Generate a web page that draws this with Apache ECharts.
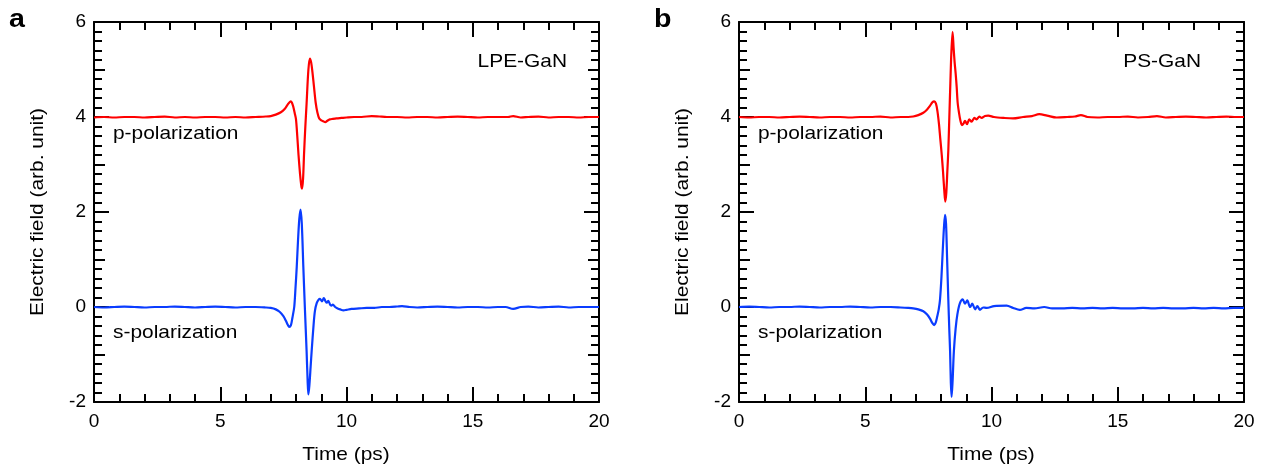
<!DOCTYPE html>
<html>
<head>
<meta charset="utf-8">
<script src="https://cdn.jsdelivr.net/npm/echarts@6/dist/echarts.min.js"></script>
<style>
html,body{margin:0;padding:0;background:#fff;}
#chart{width:1267px;height:468px;}
</style>
</head>
<body>
<div id="chart"></div>
<script>
// ---- data ----
var xTicks = [0, 5, 10, 15, 20];
var yTicks = [-2, 0, 2, 4, 6];
var panelLetters = ['a', 'b'];
var sampleNames = ['LPE-GaN', 'PS-GaN'];
var polNames = ['p-polarization', 's-polarization'];
var xName = 'Time (ps)';
var yName = 'Electric field (arb. unit)';

// Panel a, p-polarization (offset +4)
var tA_p = [0,0.4,0.8,1.2,1.6,2.0,2.4,2.8,3.2,3.6,4.0,4.4,4.8,5.2,5.6,6.0,6.4,6.8,7.0,7.2,7.4,7.55,7.67,7.79,7.84,7.89,7.95,8.00,8.05,8.10,8.16,8.21,8.24,8.28,8.32,8.37,8.42,8.49,8.55,8.60,8.65,8.71,8.78,8.85,8.92,9.00,9.08,9.16,9.24,9.34,9.46,9.6,9.8,10.0,10.3,10.6,11.0,11.3,11.6,12.0,12.4,12.8,13.2,13.6,14.0,14.4,14.8,15.2,15.6,16.0,16.4,16.6,16.9,17.2,17.6,18.0,18.4,18.8,19.2,19.6,20.0];
var vA_p = [3.99,4.00,3.99,4.00,4.00,3.99,4.00,4.01,3.99,4.00,3.99,4.00,4.00,3.99,4.00,3.99,4.00,4.01,4.02,4.05,4.10,4.17,4.26,4.33,4.30,4.22,4.08,3.95,3.60,3.20,2.80,2.55,2.49,2.70,3.24,3.80,4.29,4.99,5.23,5.15,4.95,4.65,4.30,4.09,3.97,3.93,3.91,3.89,3.92,3.95,3.96,3.97,3.98,3.99,4.00,4.00,4.02,4.01,4.00,4.00,3.99,4.00,4.00,3.99,4.00,4.01,4.00,3.99,4.00,4.00,4.00,4.02,3.99,4.00,4.01,3.99,4.00,4.00,3.99,4.00,4.00];

// Panel a, s-polarization
var tA_s = [0,0.4,0.8,1.2,1.6,2.0,2.4,2.8,3.2,3.6,4.0,4.4,4.8,5.2,5.6,6.0,6.4,6.8,7.0,7.2,7.35,7.5,7.6,7.68,7.73,7.80,7.86,7.93,7.98,8.03,8.08,8.13,8.18,8.23,8.29,8.35,8.42,8.46,8.49,8.53,8.58,8.62,8.70,8.75,8.82,8.89,8.95,9.03,9.10,9.17,9.22,9.28,9.35,9.40,9.46,9.55,9.65,9.75,9.88,10.0,10.2,10.5,10.8,11.1,11.4,11.7,12.0,12.2,12.5,12.8,13.2,13.6,14.0,14.4,14.8,15.2,15.6,16.0,16.3,16.6,16.9,17.2,17.6,18.0,18.4,18.8,19.2,19.6,20.0];
var vA_s = [0.00,-0.01,0.00,0.01,0.00,-0.01,0.00,0.00,0.01,0.00,-0.01,0.00,0.01,0.00,-0.01,0.00,0.00,-0.01,-0.02,-0.05,-0.10,-0.19,-0.29,-0.38,-0.42,-0.38,-0.22,0.00,0.40,0.85,1.40,1.85,2.05,1.75,0.85,0.00,-0.93,-1.55,-1.84,-1.65,-1.25,-0.93,-0.35,-0.08,0.08,0.15,0.17,0.12,0.19,0.12,0.09,0.13,0.05,0.03,0.05,0.00,-0.03,-0.05,-0.07,-0.06,-0.04,-0.03,-0.02,-0.02,0.00,0.00,0.01,0.02,0.00,-0.01,0.00,0.01,0.00,-0.01,0.00,0.00,-0.01,0.00,0.00,-0.04,0.00,0.01,-0.01,0.00,0.01,-0.01,0.00,0.00,0.00];

// Panel b, p-polarization (offset +4)
var tB_p = [0,0.4,0.8,1.2,1.6,2.0,2.4,2.8,3.2,3.6,4.0,4.4,4.8,5.2,5.6,6.0,6.4,6.7,6.9,7.1,7.3,7.45,7.57,7.66,7.73,7.80,7.86,7.92,7.97,8.03,8.08,8.13,8.17,8.21,8.25,8.29,8.33,8.37,8.41,8.46,8.50,8.54,8.58,8.62,8.66,8.71,8.77,8.83,8.89,8.95,9.03,9.12,9.21,9.32,9.41,9.52,9.61,9.74,9.87,10.1,10.5,10.85,11.25,11.6,11.89,12.2,12.58,13.0,13.3,13.54,13.8,14.2,14.6,15.0,15.4,15.8,16.2,16.55,16.9,17.3,17.7,18.1,18.5,18.9,19.3,19.7,20.0];
var vB_p = [4.00,3.99,4.00,4.00,3.99,4.00,4.01,4.00,3.99,4.00,4.00,3.99,4.00,4.00,4.01,3.99,4.00,4.00,4.01,4.04,4.09,4.16,4.24,4.31,4.33,4.28,4.12,3.85,3.55,3.20,2.85,2.45,2.22,2.40,2.85,3.30,4.00,4.70,5.35,5.79,5.45,5.15,4.92,4.64,4.30,4.10,3.92,3.83,3.86,3.92,3.85,3.95,3.90,3.98,3.95,4.01,3.98,4.02,4.03,4.00,3.98,3.97,4.00,4.02,4.06,4.03,3.99,4.00,4.01,4.04,4.00,3.99,4.00,4.00,4.01,3.99,4.00,4.02,3.99,4.00,4.01,4.00,3.99,4.00,4.01,4.00,4.00];

// Panel b, s-polarization
var tB_s = [0,0.4,0.8,1.2,1.6,2.0,2.4,2.8,3.2,3.6,4.0,4.4,4.8,5.2,5.6,6.0,6.4,6.7,6.9,7.1,7.3,7.45,7.57,7.66,7.73,7.79,7.85,7.91,7.96,8.02,8.07,8.12,8.16,8.20,8.24,8.29,8.33,8.36,8.39,8.42,8.46,8.51,8.58,8.65,8.75,8.86,8.95,9.04,9.15,9.24,9.35,9.44,9.54,9.67,9.81,10.1,10.6,10.86,11.12,11.38,11.7,12.09,12.4,12.8,13.2,13.6,14.0,14.4,14.8,15.2,15.6,16.0,16.4,16.8,17.2,17.6,18.0,18.4,18.8,19.2,19.6,20.0];
var vB_s = [0.00,0.01,0.00,-0.01,0.00,0.00,0.01,0.00,-0.01,0.00,0.00,0.01,0.00,-0.01,0.00,0.00,-0.01,-0.02,-0.03,-0.05,-0.09,-0.16,-0.25,-0.34,-0.38,-0.33,-0.20,-0.05,0.15,0.65,1.20,1.70,1.94,1.75,1.05,0.15,-0.50,-0.93,-1.60,-1.89,-1.55,-0.93,-0.45,-0.15,0.08,0.16,0.07,0.14,0.00,0.07,-0.05,0.02,-0.06,-0.01,-0.02,0.02,0.03,-0.02,-0.06,-0.02,-0.03,0.00,-0.03,-0.03,-0.02,-0.03,-0.02,-0.03,-0.02,-0.03,-0.03,-0.02,-0.03,-0.02,-0.03,-0.03,-0.02,-0.03,-0.02,-0.03,-0.02,-0.02];

var RED = '#ff0000';
var BLUE = '#0a3cff';
var FONT = "'Liberation Sans', Arial, Helvetica, sans-serif";

function zip(t, v) {
  var out = [];
  var n = Math.min(t.length, v.length);
  for (var i = 0; i < n; i++) out.push([t[i], v[i]]);
  return out;
}

var chart = echarts.init(document.getElementById('chart'), null, {renderer: 'canvas'});

var grids = [
  {left: 94, right: 668, top: 22, bottom: 66},
  {left: 739, right: 23, top: 22, bottom: 66}
];

var lineBlack = {color: '#000', width: 2};
var xAxes = [], yAxes = [];
grids.forEach(function (g, gi) {
  ['bottom', 'top'].forEach(function (pos) {
    xAxes.push({
      gridIndex: gi, type: 'value', position: pos,
      min: xTicks[0], max: xTicks[xTicks.length - 1], interval: xTicks[1] - xTicks[0],
      axisLine: {show: true, onZero: false, lineStyle: lineBlack},
      axisTick: {show: true, inside: true, length: 15, lineStyle: lineBlack},
      minorTick: {show: true, splitNumber: 5, length: 8, lineStyle: lineBlack},
      splitLine: {show: false},
      axisLabel: {show: pos === 'bottom', margin: 10, fontSize: 19, color: '#000', fontFamily: FONT,
                  showMinLabel: true, showMaxLabel: true}
    });
  });
  ['left', 'right'].forEach(function (pos) {
    yAxes.push({
      gridIndex: gi, type: 'value', position: pos,
      min: yTicks[0], max: yTicks[yTicks.length - 1], interval: yTicks[1] - yTicks[0],
      axisLine: {show: true, onZero: false, lineStyle: lineBlack},
      axisTick: {show: true, inside: true, length: 15, lineStyle: lineBlack},
      minorTick: {show: true, splitNumber: 10, length: 8, lineStyle: lineBlack},
      splitLine: {show: false},
      axisLabel: {show: pos === 'left', margin: 8, fontSize: 19, color: '#000', fontFamily: FONT,
                  showMinLabel: true, showMaxLabel: true}
    });
    // medium ticks every 1 unit
    yAxes.push({
      gridIndex: gi, type: 'value', position: pos,
      min: yTicks[0], max: yTicks[yTicks.length - 1], interval: 1,
      axisLine: {show: false, onZero: false},
      axisTick: {show: true, inside: true, length: 11, lineStyle: lineBlack},
      splitLine: {show: false},
      axisLabel: {show: false}
    });
  });
});

function lineSeries(data, color, gi) {
  return {
    type: 'line', data: data, xAxisIndex: gi * 2, yAxisIndex: gi * 4,
    showSymbol: false, symbol: 'none', smooth: 0.3,
    lineStyle: {color: color, width: 2.2}, clip: true, animation: false, z: 1
  };
}

var series = [
  lineSeries(zip(tA_p, vA_p), RED, 0),
  lineSeries(zip(tA_s, vA_s), BLUE, 0),
  lineSeries(zip(tB_p, vB_p), RED, 1),
  lineSeries(zip(tB_s, vB_s), BLUE, 1)
];

function txt(x, y, text, opts) {
  opts = opts || {};
  return {
    type: 'text', x: x, y: y, scaleX: opts.scaleX || 1.1, rotation: opts.rotation || 0,
    style: {
      text: text, fontSize: opts.fontSize || 19, fontFamily: FONT,
      fontWeight: opts.bold ? 'bold' : 'normal', fill: '#000',
      align: opts.align || 'left', verticalAlign: 'middle'
    }, z: 10
  };
}

var dx = 645;
var graphic = [];
[0, 1].forEach(function (gi) {
  var o = gi * dx;
  graphic.push(txt(9 + o, 20, panelLetters[gi], {fontSize: 26, bold: true, scaleX: 1.1}));
  graphic.push(txt(113 + o, 134, polNames[0]));
  graphic.push(txt(113 + o, 333, polNames[1]));
  graphic.push(txt(346 + o, 455, xName, {align: 'center'}));
  graphic.push(txt(38 + o, 212, yName, {align: 'center', rotation: Math.PI / 2}));
});
graphic.push(txt(567, 62, sampleNames[0], {align: 'right'}));
graphic.push(txt(1201, 62, sampleNames[1], {align: 'right'}));

chart.setOption({
  animation: false,
  backgroundColor: '#fff',
  grid: grids,
  xAxis: xAxes,
  yAxis: yAxes,
  series: series,
  graphic: graphic
});
</script>
</body>
</html>
